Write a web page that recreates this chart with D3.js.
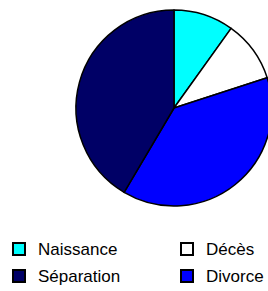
<!DOCTYPE html>
<html>
<head>
<meta charset="utf-8">
<script src="https://cdn.jsdelivr.net/npm/d3@7"></script>
<style>
  body { margin: 0; background: #fff; }
  text { font-family: "Liberation Sans", Arial, sans-serif; }
</style>
</head>
<body>
<div id="chart"></div>
<script>
// data
var categories = ["Naissance", "Décès", "Divorce", "Séparation"];
var values = [9.9, 10.1, 38.5, 41.5];
var colors = ["#00ffff", "#ffffff", "#0000ff", "#000066"];
// legend order (two rows, two columns)
var legendOrder = ["Naissance", "Décès", "Séparation", "Divorce"];

var width = 268, height = 291;
var cx = 174, cy = 108, radius = 98;

var svg = d3.select("#chart")
    .append("svg")
    .attr("width", width)
    .attr("height", height);

var color = d3.scaleOrdinal()
    .domain(categories)
    .range(colors);

var pie = d3.pie()
    .sort(null)
    .value(function (d, i) { return values[i]; });

var arc = d3.arc()
    .innerRadius(0)
    .outerRadius(radius);

var g = svg.append("g")
    .attr("transform", "translate(" + cx + "," + cy + ")");

g.selectAll("path")
    .data(pie(categories))
    .enter()
    .append("path")
    .attr("d", arc)
    .attr("fill", function (d) { return color(d.data); })
    .attr("stroke", "#000")
    .attr("stroke-width", 1.5)
    .attr("stroke-linejoin", "round");

// legend
var legendX = d3.scaleOrdinal().domain([0, 1]).range([12, 180]);
var legendY = d3.scaleOrdinal().domain([0, 1]).range([242, 269]);

var legend = svg.selectAll(".legend")
    .data(legendOrder)
    .enter()
    .append("g")
    .attr("class", "legend")
    .attr("transform", function (d, i) {
        return "translate(" + legendX(i % 2) + "," + legendY(Math.floor(i / 2)) + ")";
    });

legend.append("rect")
    .attr("x", 1)
    .attr("y", 1)
    .attr("width", 12)
    .attr("height", 12)
    .attr("fill", function (d) { return color(d); })
    .attr("stroke", "#000")
    .attr("stroke-width", 2);

legend.append("text")
    .attr("x", 26)
    .attr("y", 13)
    .style("font-size", "17px")
    .style("fill", "#000")
    .text(function (d) { return d; });
</script>
</body>
</html>
